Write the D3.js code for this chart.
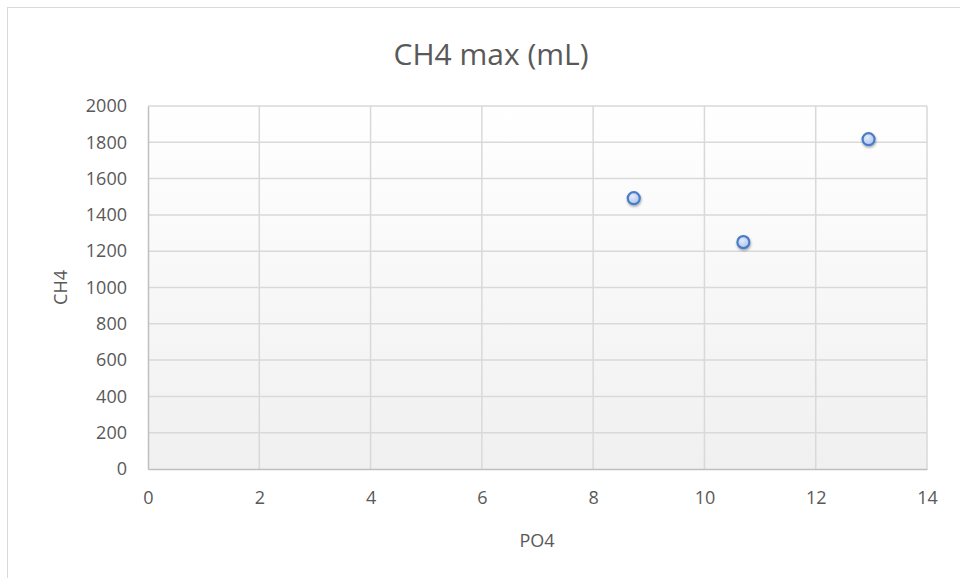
<!DOCTYPE html>
<html>
<head>
<meta charset="utf-8">
<script src="https://cdn.jsdelivr.net/npm/d3@7"></script>
<style>
  body { margin: 0; background: #fff; }
  text { font-family: "Open Sans", "Noto Sans", sans-serif; fill: #595959; }
</style>
</head>
<body>
<div id="chart-area"></div>
<script>
// data
var po4 = [8.73, 10.7, 12.95];
var ch4 = [1492, 1250, 1817];
var xTicks = [0, 2, 4, 6, 8, 10, 12, 14];
var yTicks = [0, 200, 400, 600, 800, 1000, 1200, 1400, 1600, 1800, 2000];

var W = 960, H = 578;
var margin = {left: 148, right: 33, top: 106, bottom: 109};
var width = W - margin.left - margin.right,
    height = H - margin.top - margin.bottom;

var svg = d3.select("#chart-area").append("svg")
    .attr("width", W)
    .attr("height", H);

var defs = svg.append("defs");
var bg = defs.append("linearGradient")
    .attr("id", "bg").attr("x1", 0).attr("y1", 0).attr("x2", 0).attr("y2", 1);
bg.append("stop").attr("offset", "0%").attr("stop-color", "#ffffff");
bg.append("stop").attr("offset", "100%").attr("stop-color", "#f0f0f0");

var dot = defs.append("radialGradient")
    .attr("id", "dot").attr("cx", "40%").attr("cy", "35%").attr("r", "70%");
dot.append("stop").attr("offset", "0%").attr("stop-color", "#e4ecfa");
dot.append("stop").attr("offset", "100%").attr("stop-color", "#a9c2ec");

var shadow = defs.append("filter").attr("id", "shadow")
    .attr("x", "-50%").attr("y", "-50%").attr("width", "200%").attr("height", "200%");
shadow.append("feDropShadow")
    .attr("dx", 0.5).attr("dy", 1.5).attr("stdDeviation", 1.2)
    .attr("flood-color", "#000").attr("flood-opacity", 0.35);

// chart frame
svg.append("rect")
    .attr("x", 7.5).attr("y", 7.5)
    .attr("width", W + 20).attr("height", H + 20)
    .attr("fill", "#fff")
    .attr("stroke", "#d9d9d9")
    .attr("stroke-width", 1);

var g = svg.append("g")
    .attr("transform", "translate(" + margin.left + "," + margin.top + ")");

var x = d3.scaleLinear().domain([0, 14]).range([0, width]);
var y = d3.scaleLinear().domain([0, 2000]).range([height, 0]);

// plot background
g.append("rect")
    .attr("width", width).attr("height", height)
    .attr("fill", "url(#bg)");

// gridlines
g.append("g").selectAll("line")
    .data(xTicks.slice(1))
    .enter().append("line")
    .attr("x1", function (d) { return x(d); })
    .attr("x2", function (d) { return x(d); })
    .attr("y1", 0).attr("y2", height)
    .attr("stroke", "#d9d9d9").attr("stroke-width", 1.5);

g.append("g").selectAll("line")
    .data(yTicks.slice(1))
    .enter().append("line")
    .attr("y1", function (d) { return y(d); })
    .attr("y2", function (d) { return y(d); })
    .attr("x1", 0).attr("x2", width)
    .attr("stroke", "#d9d9d9").attr("stroke-width", 1.5);

// axes
var xAxis = g.append("g")
    .attr("transform", "translate(0," + height + ")")
    .call(d3.axisBottom(x).tickValues(xTicks).tickFormat(d3.format("d")).tickSize(0).tickPadding(22));
xAxis.select(".domain").attr("stroke", "#bfbfbf").attr("stroke-width", 1.5);
xAxis.selectAll("text").style("font-size", "18px").attr("fill", "#595959");

var yAxis = g.append("g")
    .call(d3.axisLeft(y).tickValues(yTicks).tickFormat(d3.format("d")).tickSize(0).tickPadding(21));
yAxis.select(".domain").attr("stroke", "#bfbfbf").attr("stroke-width", 1.5);
yAxis.selectAll("text").style("font-size", "18px").attr("fill", "#595959");

// title
svg.append("text")
    .attr("x", 491).attr("y", 65)
    .attr("text-anchor", "middle")
    .style("font-size", "30px")
    .text("CH4 max (mL)");

// axis titles
svg.append("text")
    .attr("x", 537).attr("y", 547)
    .attr("text-anchor", "middle")
    .style("font-size", "18px")
    .text("PO4");

svg.append("text")
    .attr("transform", "translate(67," + (margin.top + height / 2) + ") rotate(-90)")
    .attr("text-anchor", "middle")
    .style("font-size", "18px")
    .text("CH4");

// points
g.selectAll("circle")
    .data(po4)
    .enter().append("circle")
    .attr("cx", function (d) { return x(d); })
    .attr("cy", function (d, i) { return y(ch4[i]); })
    .attr("r", 6)
    .attr("fill", "url(#dot)")
    .attr("stroke", "#4a7cc7")
    .attr("stroke-width", 2.2)
    .attr("filter", "url(#shadow)");
</script>
</body>
</html>
